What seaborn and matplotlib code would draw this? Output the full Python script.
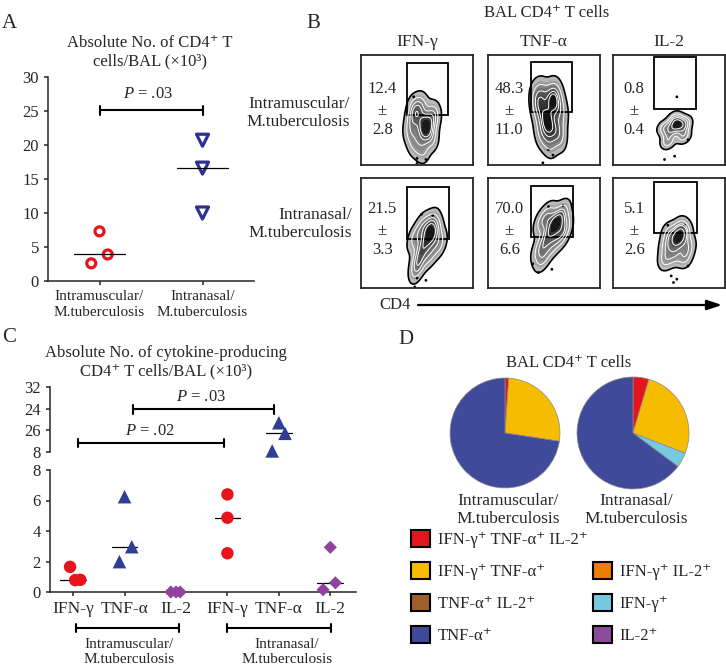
import numpy as np
import pandas as pd
import matplotlib.pyplot as plt
import seaborn as sns
from matplotlib.patches import Patch, Rectangle
from matplotlib.colors import LinearSegmentedColormap

# ---- values ----
# A: absolute No. of CD4+ T cells / BAL (x10^3)
groups = ["Intramuscular/\nM.tuberculosis", "Intranasal/\nM.tuberculosis"]
cd4_im = [7.3, 3.9, 2.6]
cd4_in = [20.7, 16.6, 10.0]

# B: % cytokine+ among BAL CD4 T cells (mean / sd)
cytokines = ["IFN-γ", "TNF-α", "IL-2"]
freq_im = ["12.4", "48.3", "0.8"]
sd_im = ["2.8", "11.0", "0.4"]
freq_in = ["21.5", "70.0", "5.1"]
sd_in = ["3.3", "6.6", "2.6"]

# B: rough event clouds (CD4 vs cytokine, scaled 0-1) estimated from the contour plots
events_im = [
    [(0.58, 0.35), (0.59, 0.33), (0.56, 0.38), (0.55, 0.29), (0.63, 0.41), (0.50, 0.46), (0.48, 0.52),
     (0.54, 0.55), (0.44, 0.30), (0.48, 0.19), (0.55, 0.13), (0.63, 0.24), (0.65, 0.47), (0.46, 0.41)],
    [(0.57, 0.57), (0.58, 0.59), (0.52, 0.42), (0.53, 0.40), (0.59, 0.33), (0.49, 0.65), (0.61, 0.65),
     (0.45, 0.50), (0.65, 0.48), (0.48, 0.29), (0.55, 0.21), (0.64, 0.27), (0.44, 0.61)],
    [(0.57, 0.37), (0.58, 0.38), (0.55, 0.35), (0.62, 0.33), (0.50, 0.29), (0.49, 0.21), (0.64, 0.38),
     (0.55, 0.42), (0.63, 0.26), (0.46, 0.34)],
]
events_in = [
    [(0.66, 0.49), (0.64, 0.50), (0.60, 0.52), (0.55, 0.56), (0.58, 0.42), (0.54, 0.35), (0.51, 0.25),
     (0.48, 0.45), (0.70, 0.40), (0.63, 0.59), (0.50, 0.17), (0.61, 0.30)],
    [(0.60, 0.58), (0.62, 0.60), (0.57, 0.55), (0.54, 0.66), (0.66, 0.68), (0.48, 0.60), (0.52, 0.45),
     (0.58, 0.40), (0.66, 0.48), (0.46, 0.35), (0.49, 0.27), (0.68, 0.56)],
    [(0.58, 0.45), (0.59, 0.46), (0.56, 0.43), (0.64, 0.50), (0.50, 0.50), (0.48, 0.38), (0.55, 0.30),
     (0.67, 0.38), (0.60, 0.55), (0.47, 0.26), (0.64, 0.28)],
]
strays_im = [
    [(0.47, 0.62), (0.50, 0.06), (0.58, 0.05), (0.50, 0.015)],
    [(0.54, 0.14), (0.58, 0.09), (0.49, 0.02)],
    [(0.57, 0.62), (0.67, 0.23), (0.55, 0.08), (0.46, 0.05)],
]
strays_in = [
    [(0.54, 0.67), (0.64, 0.66), (0.50, 0.09), (0.58, 0.07), (0.48, 0.01)],
    [(0.54, 0.74), (0.67, 0.75), (0.40, 0.22), (0.45, 0.14), (0.57, 0.17)],
    [(0.49, 0.57), (0.64, 0.57), (0.67, 0.20), (0.52, 0.11), (0.57, 0.08), (0.54, 0.05)],
]

# C: absolute No. of cytokine-producing CD4+ T cells / BAL (x10^3)
c_labels = ["IFN-γ", "TNF-α", "IL-2", "IFN-γ", "TNF-α", "IL-2"]
ifn_im = [1.65, 0.78, 0.8]
tnf_im = [6.25, 2.97, 1.99]
il2_im = [0.0, 0.0, 0.0]
ifn_in = [6.4, 4.87, 2.54]
tnf_in = [18.8, 14.9, 8.4]  # sits on the upper (broken) axis
il2_in = [2.93, 0.6, 0.15]
top_ticks = [8, 16, 24, 32]
top_labels = ["8", "26", "24", "32"]

# D: composition of cytokine+ BAL CD4 T cells (%)
subsets = ["IFN-γ⁺ TNF-α⁺ IL-2⁺", "IFN-γ⁺ TNF-α⁺", "IFN-γ⁺ IL-2⁺", "TNF-α⁺ IL-2⁺",
           "IFN-γ⁺", "TNF-α⁺", "IL-2⁺"]
pie_im = [1.1, 26.3, 0, 0, 0, 72.6, 0]
pie_in = [4.6, 26.3, 0, 0, 4.3, 64.8, 0]

# ---- styling / layout ----
RED = "#e8141c"
NAVY = "#2e3192"
BLUE = "#2f3d94"
PURPLE = "#8e449c"
subset_colors = ["#e3161d", "#f6bd00", "#ee7d00", "#9e5f2a", "#77c9e0", "#3f4a9a", "#8a4c9a"]

sns.set_style("ticks")
plt.rcParams['font.family'] = ['Liberation Serif', 'DejaVu Serif']
plt.rcParams['mathtext.fontset'] = 'custom'
plt.rcParams['mathtext.rm'] = 'Liberation Serif'
plt.rcParams['mathtext.it'] = 'Liberation Serif:italic'
plt.rcParams['axes.linewidth'] = 1.1
plt.rcParams['xtick.major.width'] = 1.1
plt.rcParams['ytick.major.width'] = 1.1
plt.rcParams['xtick.major.size'] = 3
plt.rcParams['ytick.major.size'] = 3

W, H = 726, 670


def box(x0, y0, x1, y1):
    # pixel box (top-left origin) -> figure rect
    return [x0 / W, 1 - y1 / H, (x1 - x0) / W, (y1 - y0) / H]


def ftext(x, y, s, **kw):
    kw.setdefault("ha", "center")
    kw.setdefault("va", "center")
    kw.setdefault("fontsize", 12)
    fig.text(x / W, 1 - y / H, s, **kw)


def bracket(ax, x0, x1, y, cap, trans=None, lw=1.5):
    t = trans if trans is not None else ax.transData
    ax.plot([x0, x1], [y, y], color="black", lw=lw, transform=t, clip_on=False)
    for xx in (x0, x1):
        ax.plot([xx, xx], [y - cap, y + cap], color="black", lw=lw, transform=t, clip_on=False)


fig = plt.figure(figsize=(W / 100, H / 100), dpi=100)

# ================= A =================
ax_a = fig.add_axes(box(48, 77, 254, 281))
jit_a = [[0, 0.08, -0.08], [0, 0, 0]]
df_a = pd.DataFrame({
    "x": [0 + j for j in jit_a[0]] + [1 + j for j in jit_a[1]],
    "y": cd4_im + cd4_in,
    "g": ["im"] * len(cd4_im) + ["in"] * len(cd4_in),
})
sns.scatterplot(data=df_a[df_a.g == "im"], x="x", y="y", ax=ax_a, marker="o", s=42,
                facecolor="none", edgecolor=RED, linewidth=2.3, legend=False, clip_on=False)
sns.scatterplot(data=df_a[df_a.g == "in"], x="x", y="y", ax=ax_a, marker="v", s=75,
                facecolor="none", edgecolor=NAVY, linewidth=2.3, legend=False, clip_on=False)
for i, vals in enumerate([cd4_im, cd4_in]):
    m = np.median(vals)
    ax_a.plot([i - 0.25, i + 0.25], [m, m], color="black", lw=0.9)
bracket(ax_a, 0, 1, 25.1, 0.66)
ax_a.text(0.47, 27.5, "$P$ = .03", ha="center", va="center", fontsize=12)
ax_a.set_xlim(-0.5, 1.5)
ax_a.set_ylim(0, 30)
ax_a.set_yticks(range(0, 31, 5))
ax_a.set_xticks([0, 1])
ax_a.set_xticklabels(groups, fontsize=11, linespacing=1.25)
ax_a.tick_params(axis="y", labelsize=12)
ax_a.set_xlabel("")
ax_a.set_ylabel("")
sns.despine(ax=ax_a)
ftext(150, 52, "Absolute No. of CD4⁺ T\ncells/BAL (×10³)", linespacing=1.15)
ftext(2, 23, "A", fontsize=15, ha="left")

# ================= B =================
col_x = [(361, 473), (488, 600), (613, 725)]
row_y = [(55, 165), (178, 288)]
gates = [
    [(0.41, 0.455, 0.78, 0.93), (0.38, 0.48, 0.75, 0.94), (0.37, 0.51, 0.74, 0.98)],
    [(0.41, 0.45, 0.79, 0.92), (0.38, 0.46, 0.76, 0.93), (0.37, 0.50, 0.75, 0.96)],
]
label_y = [[0.69, 0.49, 0.32], [0.72, 0.52, 0.35]]
flow_cmap = LinearSegmentedColormap.from_list("flow", ["#c4c4c4", "#6e6e6e", "#0a0a0a"])
white_cmap = LinearSegmentedColormap.from_list("wh", ["#ffffff", "#ffffff"])
black_cmap = LinearSegmentedColormap.from_list("bk", ["#000000", "#000000"])

for r, (events, strays, freqs, sds) in enumerate([(events_im, strays_im, freq_im, sd_im),
                                                   (events_in, strays_in, freq_in, sd_in)]):
    for c in range(3):
        ax = fig.add_axes(box(col_x[c][0], row_y[r][0], col_x[c][1], row_y[r][1]))
        ex = [p[0] for p in events[c]]
        ey = [p[1] for p in events[c]]
        sns.kdeplot(x=ex, y=ey, ax=ax, fill=True, cmap=flow_cmap, levels=12, thresh=0.05, bw_adjust=0.95)
        sns.kdeplot(x=ex, y=ey, ax=ax, levels=5, thresh=0.2, cmap=white_cmap, linewidths=0.7, bw_adjust=0.95)
        sns.kdeplot(x=ex, y=ey, ax=ax, levels=[0.05], cmap=black_cmap, linewidths=1.2, bw_adjust=0.95)
        sx = [p[0] for p in strays[c]]
        sy = [p[1] for p in strays[c]]
        sns.scatterplot(x=sx, y=sy, ax=ax, s=4, color="black", edgecolor="none", legend=False)
        g = gates[r][c]
        ax.add_patch(Rectangle((g[0], g[1]), g[2] - g[0], g[3] - g[1], fill=False, lw=1.3, ec="black"))
        for yy, s in zip(label_y[r], [freqs[c], "±", sds[c]]):
            ax.text(0.19, yy, s, ha="center", va="center", fontsize=12, transform=ax.transAxes)
        ax.set_xlim(0, 1)
        ax.set_ylim(0, 1)
        ax.set_xticks([])
        ax.set_yticks([])
        ax.set_xlabel("")
        ax.set_ylabel("")
        for sp in ax.spines.values():
            sp.set_visible(True)
            sp.set_linewidth(1.3)
        if r == 0:
            ftext((col_x[c][0] + col_x[c][1]) / 2, 42, cytokines[c], fontsize=12.5)

ftext(547, 13, "BAL CD4⁺ T cells", fontsize=12)
ftext(350, 113, "Intramuscular/\nM.tuberculosis", ha="right", multialignment="right", fontsize=12.5)
ftext(352, 224, "Intranasal/\nM.tuberculosis", ha="right", multialignment="right", fontsize=12.5)
ftext(395, 305, "CD4", fontsize=12)
ax_a.annotate("", xy=(722 / W, 1 - 305 / H), xytext=(418 / W, 1 - 305 / H),
              xycoords="figure fraction", textcoords="figure fraction", annotation_clip=False,
              arrowprops=dict(arrowstyle="-|>,head_length=0.9,head_width=0.3", lw=1.6, color="black",
                              shrinkA=0, shrinkB=0))
ftext(306, 23, "B", fontsize=15, ha="left")

# ================= C =================
ax_ct = fig.add_axes(box(50, 387, 356, 452))
ax_cb = fig.add_axes(box(50, 470, 356, 592))
c_vals = [ifn_im, tnf_im, il2_im, ifn_in, tnf_in, il2_in]
c_marks = ["o", "^", "D", "o", "^", "D"]
c_cols = [RED, BLUE, PURPLE, RED, BLUE, PURPLE]
c_size = [80, 95, 45, 80, 95, 45]
jit_c = [[-0.06, 0.04, 0.14], [0, 0.14, -0.1], [-0.1, 0, 0.08],
         [0, 0, 0], [0, 0.12, -0.13], [0, 0.1, -0.14]]
for i, vals in enumerate(c_vals):
    ax = ax_ct if i == 4 else ax_cb
    xs = [i + j for j in jit_c[i]]
    m = np.median(vals)
    ax.plot([i - 0.25, i + 0.25], [m, m], color="black", lw=0.9, zorder=1)
    sns.scatterplot(x=xs, y=vals, ax=ax, marker=c_marks[i], s=c_size[i], color=c_cols[i],
                    edgecolor="none", legend=False, clip_on=False, zorder=3)

for ax in (ax_ct, ax_cb):
    ax.set_xlim(-0.45, 5.5)
ax_cb.set_ylim(0, 8)
ax_cb.set_yticks([0, 2, 4, 6, 8])
ax_cb.set_xticks(range(6))
ax_cb.set_xticklabels(c_labels, fontsize=12.5)
ax_cb.tick_params(axis="y", labelsize=12)
sns.despine(ax=ax_cb)
ax_ct.set_ylim(8, 32)
ax_ct.set_yticks(top_ticks)
ax_ct.set_yticklabels(top_labels, fontsize=12)
ax_ct.set_xticks([])
sns.despine(ax=ax_ct, bottom=True)

bracket(ax_ct, 1.16, 3.9, 23.7, 1.5)
ax_ct.text(2.49, 28.3, "$P$ = .03", ha="center", va="center", fontsize=12)
bracket(ax_ct, 0.1, 2.94, 11.3, 1.5)
ax_ct.text(1.5, 15.7, "$P$ = .02", ha="center", va="center", fontsize=12)

xt = ax_cb.get_xaxis_transform()
bracket(ax_cb, 0.05, 2.05, -0.295, 0.035, trans=xt)
bracket(ax_cb, 3.0, 5.02, -0.295, 0.035, trans=xt)
ftext(129, 652, "Intramuscular/\nM.tuberculosis", fontsize=11)
ftext(287, 652, "Intranasal/\nM.tuberculosis", fontsize=11)
ftext(166, 362, "Absolute No. of cytokine-producing\nCD4⁺ T cells/BAL (×10³)", linespacing=1.15)
ftext(2, 338, "C", fontsize=15, ha="left")

# ================= D =================
for (cx, cy, rad), vals, lab in [((505, 433, 55), pie_im, "Intramuscular/\nM.tuberculosis"),
                                 ((633, 433, 56), pie_in, "Intranasal/\nM.tuberculosis")]:
    ax = fig.add_axes(box(cx - rad, cy - rad, cx + rad, cy + rad))
    keep = [k for k, v in enumerate(vals) if v > 0]
    ax.pie([vals[k] for k in keep], colors=[subset_colors[k] for k in keep],
           startangle=90, counterclock=False, radius=1,
           wedgeprops=dict(edgecolor="#8a8a8a", linewidth=0.5))
    ax.set_xlim(-1, 1)
    ax.set_ylim(-1, 1)
    ax.set_aspect("equal")
    ax.axis("off")
    ftext(cx + 3, 510, lab, fontsize=12.5)

ftext(569, 363, "BAL CD4⁺ T cells", fontsize=12)
ftext(398, 340, "D", fontsize=15, ha="left")

order = [0, 1, 3, 5, None, 2, 4, 6]
handles, labels = [], []
for k in order:
    if k is None:
        handles.append(Patch(facecolor="none", edgecolor="none"))
        labels.append("")
    else:
        handles.append(Patch(facecolor=subset_colors[k], edgecolor="black", linewidth=1.5))
        labels.append(subsets[k])
fig.legend(handles, labels, ncol=2, loc="upper left", bbox_to_anchor=(411 / W, 1 - 530 / H),
           frameon=False, fontsize=12, handlelength=1.15, handleheight=1.15, handletextpad=0.45,
           labelspacing=0.85, columnspacing=0.35, borderpad=0, borderaxespad=0)

fig.savefig("out.png", dpi=100)
